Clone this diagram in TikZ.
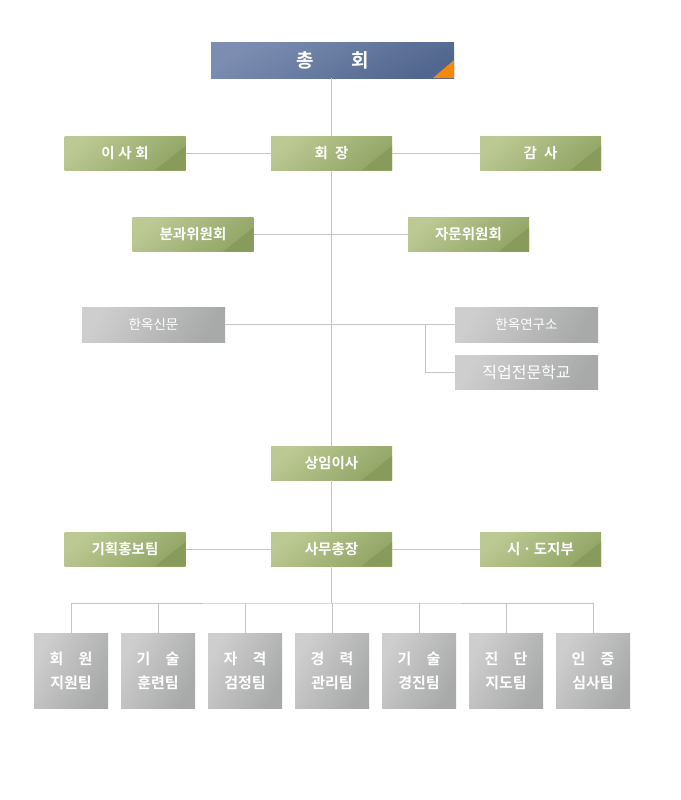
\documentclass[tikz,border=0pt]{standalone}
\usepackage{fontspec}
\newfontfamily\kr{Noto Sans CJK KR}[BoldFont={Noto Sans CJK KR Bold}]
\definecolor{lineg}{HTML}{C4C4C4}
\definecolor{gnA}{HTML}{BCC993}
\definecolor{gnB}{HTML}{92A566}
\definecolor{gnC}{HTML}{869957}
\definecolor{gyA}{HTML}{CDCECD}
\definecolor{gyB}{HTML}{A8AAA9}
\definecolor{blA}{HTML}{7C8DB1}
\definecolor{blB}{HTML}{52678F}
\definecolor{orng}{HTML}{F5890A}
\tikzset{
  greenbox/.style={rectangle, inner sep=0pt, minimum width=121pt, minimum height=34pt,
    top color=gnA, bottom color=gnB, shading angle=40, text=white,
    font=\kr\bfseries\fontsize{14.5}{16}\selectfont,
    path picture={\fill[gnC, opacity=0.8] ([xshift=-30pt]path picture bounding box.south east) -- ([yshift=24pt]path picture bounding box.south east) -- (path picture bounding box.south east) -- cycle;}},
  graybox/.style={rectangle, inner sep=0pt, minimum width=143pt, minimum height=35pt,
    top color=gyA, bottom color=gyB, shading angle=60, text=white,
    font=\kr\fontsize{13.5}{15}\selectfont},
  teambox/.style={rectangle, inner sep=0pt, minimum width=74pt, minimum height=75pt,
    top color=gyA, bottom color=gyB, shading angle=60, text=white, align=center,
    font=\kr\bfseries\fontsize{15}{24}\selectfont},
  topbox/.style={rectangle, inner sep=0pt, minimum width=243pt, minimum height=35pt,
    top color=blA, bottom color=blB, shading angle=30, text=white,
    font=\kr\bfseries\fontsize{19}{21}\selectfont,
    path picture={\fill[orng] ([xshift=-21pt]path picture bounding box.south east) -- ([yshift=18pt]path picture bounding box.south east) -- (path picture bounding box.south east) -- cycle;}},
  conn/.style={draw=lineg, line width=1pt}
}
\begin{document}
\begin{tikzpicture}[x=1pt,y=-1pt]
\useasboundingbox[fill=white] (0,0) rectangle (680,800);
% nodes
\node[topbox] (ch) at (332.5,60.5) {총\hspace{2em}회};
\node[greenbox] (pres) at (331.5,153) {회\hspace{0.5em}장};
\node[greenbox] (board) at (125,153) {이\hspace{0.25em}사\hspace{0.25em}회};
\node[greenbox] (audit) at (540.5,153) {감\hspace{0.5em}사};
\node[greenbox] (sub) at (193,234.5) {분과위원회};
\node[greenbox] (adv) at (468.5,234.5) {자문위원회};
\node[graybox] (news) at (153.5,324.5) {한옥신문};
\node[graybox] (lab) at (526.5,324.5) {한옥연구소};
\node[graybox, minimum height=34pt, font=\kr\fontsize{16}{18}\selectfont] (school) at (526.5,372) {직업전문학교};
\node[greenbox] (exec) at (331.5,463) {상임이사};
\node[greenbox] (plan) at (125,549) {기획홍보팀};
\node[greenbox] (sec) at (331.5,549) {사무총장};
\node[greenbox] (city) at (540.5,549) {시\,·\,도지부};
\node[teambox] (t1) at (71,670.5) {회\hspace{1em}원\\지원팀};
\node[teambox] (t2) at (158,670.5) {기\hspace{1em}술\\훈련팀};
\node[teambox] (t3) at (245,670.5) {자\hspace{1em}격\\검정팀};
\node[teambox] (t4) at (332,670.5) {경\hspace{1em}력\\관리팀};
\node[teambox] (t5) at (419,670.5) {기\hspace{1em}술\\경진팀};
\node[teambox] (t6) at (506,670.5) {진\hspace{1em}단\\지도팀};
\node[teambox] (t7) at (593,670.5) {인\hspace{1em}증\\심사팀};
\coordinate (bus) at (331.5,603);
\coordinate (fork) at (425,324.5);
% connectors
\draw[conn] (ch.south -| pres.north) -- (pres.north);
\draw[conn] (pres.south) -- (exec.north);
\draw[conn] (exec.south) -- (sec.north);
\draw[conn] (sec.south) -- (bus);
\draw[conn] (board.east) -- (pres.west);
\draw[conn] (pres.east) -- (audit.west);
\draw[conn] (sub.east) -- (adv.west);
\draw[conn] (news.east) -- (lab.west);
\draw[conn] (fork) |- (school.west);
\draw[conn] (plan.east) -- (sec.west);
\draw[conn] (sec.east) -- (city.west);
\draw[conn] (t1.north) |- (bus) -| (t7.north);
\foreach \t in {t2,t3,t4,t5,t6} \draw[conn] (\t.north) -- (\t.north |- bus);
\end{tikzpicture}
\end{document}
